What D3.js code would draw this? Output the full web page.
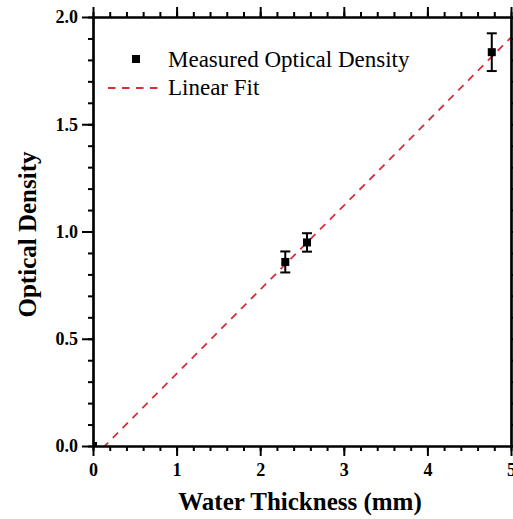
<!DOCTYPE html>
<html>
<head>
<meta charset="utf-8">
<script src="https://cdn.jsdelivr.net/npm/d3@7"></script>
<style>
  body { margin: 0; background: #fff; }
  svg { display: block; }
  text { font-family: "Liberation Serif", "Times New Roman", serif; }
  .axis-title { font-weight: bold; font-size: 25px; }
  .legend-text { font-size: 23px; }
</style>
</head>
<body>
<div id="chart"></div>
<script>
// data
var thickness = [0, 2.30, 2.56, 4.77];
var density = [0, 0.858, 0.949, 1.836];
var densityErr = [0, 0.049, 0.043, 0.088];

// linear fit line (slope, intercept)
var fitSlope = 0.392;
var fitIntercept = -0.055;
var fitRange = [0, 5];

var xTicks = [0, 1, 2, 3, 4, 5];
var yTicks = [0.0, 0.5, 1.0, 1.5, 2.0];

var svgWidth = 513;
var svgHeight = 519;

var margin = { top: 17, right: 2, bottom: 73, left: 93 };
var width = svgWidth - margin.left - margin.right;
var height = svgHeight - margin.top - margin.bottom;

var fitColor = "#d3303c";
var serif = '"Liberation Serif", "Times New Roman", serif';

var svg = d3.select("#chart")
  .append("svg")
  .attr("width", svgWidth)
  .attr("height", svgHeight);

var chartGroup = svg.append("g")
  .attr("transform", `translate(${margin.left}, ${margin.top})`);

var xScale = d3.scaleLinear().domain([0, 5]).range([0, width]);
var yScale = d3.scaleLinear().domain([0, 2]).range([height, 0]);

// clip path for the plot area
chartGroup.append("clipPath")
  .attr("id", "plot-clip")
  .append("rect")
  .attr("width", width)
  .attr("height", height);

var plot = chartGroup.append("g").attr("clip-path", "url(#plot-clip)");

// fit line
plot.append("line")
  .attr("x1", xScale(fitRange[0]))
  .attr("y1", yScale(fitSlope * fitRange[0] + fitIntercept))
  .attr("x2", xScale(fitRange[1]))
  .attr("y2", yScale(fitSlope * fitRange[1] + fitIntercept))
  .attr("stroke", fitColor)
  .attr("stroke-width", 1.8)
  .attr("stroke-dasharray", "7.5,6.5");

var points = thickness.map((t, i) => ({ x: t, y: density[i], e: densityErr[i] }));

// error bars
var errGroup = plot.selectAll("g.err")
  .data(points.filter(d => d.e > 0))
  .enter()
  .append("g")
  .attr("stroke", "#000")
  .attr("stroke-width", 2);

errGroup.append("line")
  .attr("x1", d => xScale(d.x))
  .attr("x2", d => xScale(d.x))
  .attr("y1", d => yScale(d.y - d.e))
  .attr("y2", d => yScale(d.y + d.e));

errGroup.append("line")
  .attr("x1", d => xScale(d.x) - 5)
  .attr("x2", d => xScale(d.x) + 5)
  .attr("y1", d => yScale(d.y - d.e))
  .attr("y2", d => yScale(d.y - d.e));

errGroup.append("line")
  .attr("x1", d => xScale(d.x) - 5)
  .attr("x2", d => xScale(d.x) + 5)
  .attr("y1", d => yScale(d.y + d.e))
  .attr("y2", d => yScale(d.y + d.e));

// markers
plot.selectAll("rect.pt")
  .data(points)
  .enter()
  .append("rect")
  .attr("x", d => xScale(d.x) - 4)
  .attr("y", d => yScale(d.y) - 4)
  .attr("width", 8)
  .attr("height", 8)
  .attr("fill", "#000");

// axes
function styleAxis(g) {
  g.attr("font-family", null).attr("font-size", null);
  g.select(".domain").attr("stroke", "#000").attr("stroke-width", 2.2);
  g.selectAll(".tick line").attr("stroke", "#000").attr("stroke-width", 2);
  g.selectAll(".tick text")
    .attr("fill", "#000")
    .style("font-family", serif)
    .style("font-weight", "bold")
    .style("font-size", "18px");
}

var xMinor = d3.range(0, 5.001, 0.2);
var yMinor = d3.range(0, 2.001, 0.1);

// bottom
chartGroup.append("g")
  .attr("transform", `translate(0, ${height})`)
  .call(d3.axisBottom(xScale).tickValues(xMinor).tickSize(5).tickFormat("").tickSizeOuter(0))
  .call(styleAxis);
chartGroup.append("g")
  .attr("transform", `translate(0, ${height})`)
  .call(d3.axisBottom(xScale).tickValues(xTicks).tickSize(10).tickPadding(7).tickFormat(d3.format("d")).tickSizeOuter(0))
  .call(styleAxis);

// top
chartGroup.append("g")
  .call(d3.axisTop(xScale).tickValues(xMinor).tickSize(5).tickFormat("").tickSizeOuter(0))
  .call(styleAxis);
chartGroup.append("g")
  .call(d3.axisTop(xScale).tickValues(xTicks).tickSize(10).tickFormat("").tickSizeOuter(0))
  .call(styleAxis);

// left
chartGroup.append("g")
  .call(d3.axisLeft(yScale).tickValues(yMinor).tickSize(5).tickFormat("").tickSizeOuter(0))
  .call(styleAxis);
chartGroup.append("g")
  .call(d3.axisLeft(yScale).tickValues(yTicks).tickSize(11).tickPadding(4).tickFormat(d3.format(".1f")).tickSizeOuter(0))
  .call(styleAxis);

// right
chartGroup.append("g")
  .attr("transform", `translate(${width}, 0)`)
  .call(d3.axisRight(yScale).tickValues(yMinor).tickSize(5).tickFormat("").tickSizeOuter(0))
  .call(styleAxis);
chartGroup.append("g")
  .attr("transform", `translate(${width}, 0)`)
  .call(d3.axisRight(yScale).tickValues(yTicks).tickSize(10).tickFormat("").tickSizeOuter(0))
  .call(styleAxis);

// axis titles
svg.append("text")
  .attr("class", "axis-title")
  .attr("x", margin.left + width / 2 - 2)
  .attr("y", 510)
  .attr("text-anchor", "middle")
  .text("Water Thickness (mm)");

svg.append("text")
  .attr("class", "axis-title")
  .attr("transform", `translate(36, ${margin.top + height / 2 + 3}) rotate(-90)`)
  .attr("text-anchor", "middle")
  .text("Optical Density");

// legend
var legend = svg.append("g");
legend.append("rect")
  .attr("x", 132)
  .attr("y", 55)
  .attr("width", 8)
  .attr("height", 8)
  .attr("fill", "#000");
legend.append("text")
  .attr("class", "legend-text")
  .attr("x", 168)
  .attr("y", 67)
  .text("Measured Optical Density");
legend.append("line")
  .attr("x1", 108)
  .attr("x2", 164)
  .attr("y1", 88)
  .attr("y2", 88)
  .attr("stroke", fitColor)
  .attr("stroke-width", 1.8)
  .attr("stroke-dasharray", "7.5,6.5");
legend.append("text")
  .attr("class", "legend-text")
  .attr("x", 168)
  .attr("y", 95)
  .text("Linear Fit");
</script>
</body>
</html>
